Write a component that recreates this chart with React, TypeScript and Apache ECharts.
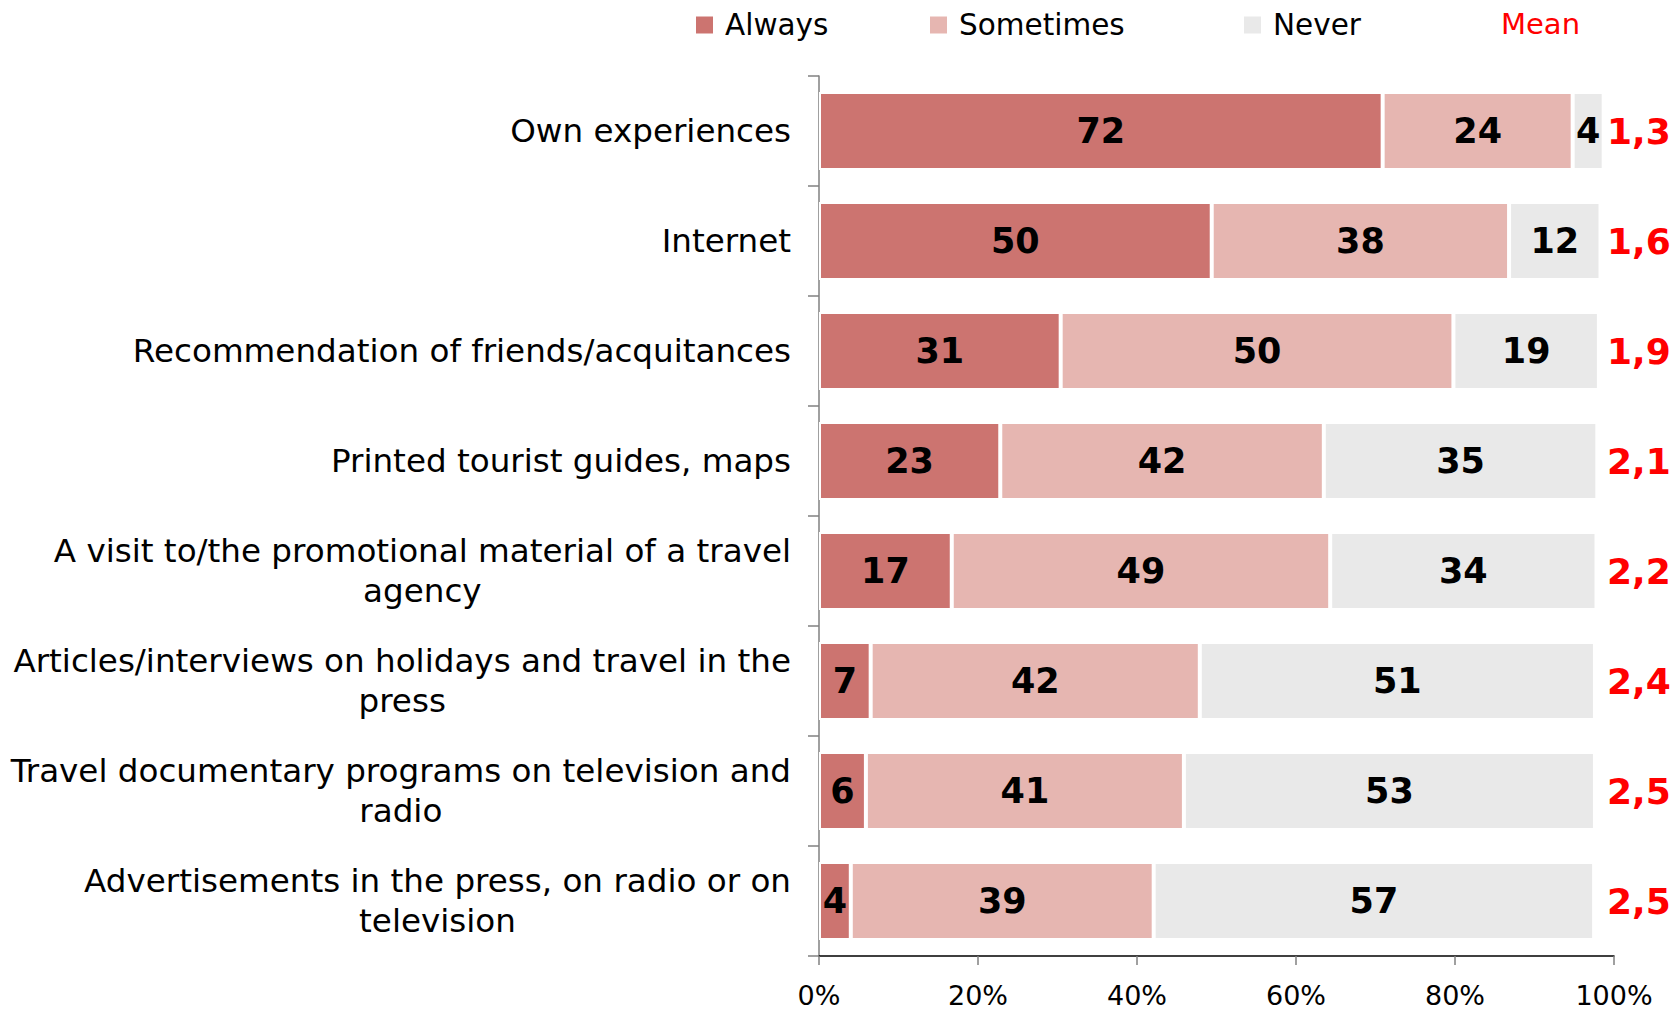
import React, { useEffect, useRef } from "react";
import * as echarts from "echarts";

const categories = [
  "Own experiences",
  "Internet",
  "Recommendation of friends/acquitances",
  "Printed tourist guides, maps",
  "A visit to/the promotional material of a travel\nagency",
  "Articles/interviews on holidays and travel in the\npress",
  "Travel documentary programs on television and\nradio",
  "Advertisements in the press, on radio or on\ntelevision",
];

const alwaysValues = [70.9, 49.4, 30.4, 22.8, 16.7, 6.5, 5.9, 4.0];
const sometimesValues = [23.9, 37.4, 49.4, 40.7, 47.6, 41.4, 40.0, 38.1];
const neverValues = [3.9, 11.5, 18.3, 34.4, 33.5, 49.7, 51.7, 55.4];

const alwaysLabels = [72, 50, 31, 23, 17, 7, 6, 4];
const sometimesLabels = [24, 38, 50, 42, 49, 42, 41, 39];
const neverLabels = [4, 12, 19, 35, 34, 51, 53, 57];

const meanLabels = ["1,3", "1,6", "1,9", "2,1", "2,2", "2,4", "2,5", "2,5"];

const xTicks = [0, 20, 40, 60, 80, 100];

const FONT = "'DejaVu Sans', Verdana, sans-serif";
const COLORS = { always: "#CC7470", sometimes: "#E6B6B1", never: "#E9E9E9" };

export default function App() {
  const ref = useRef<HTMLDivElement>(null);

  useEffect(() => {
    if (!ref.current) return;
    const chart = echarts.init(ref.current, undefined, { renderer: "svg" });

    const mkSeries = (name: string, data: number[], labels: number[], color: string) => ({
      name,
      type: "bar",
      stack: "total",
      data,
      barWidth: 78,
      itemStyle: { color, borderColor: "#ffffff", borderWidth: 2 },
      label: {
        show: true,
        position: "inside",
        formatter: (p: any) => String(labels[p.dataIndex]),
        color: "#000",
        fontFamily: FONT,
        fontWeight: "bold",
        fontSize: 35,
      },
      emphasis: { disabled: true },
    });

    const legendBase = {
      top: 8,
      padding: 0,
      itemWidth: 19,
      itemHeight: 19,
      icon: "rect",
      selectedMode: false,
      textStyle: {
        fontFamily: FONT,
        fontSize: 29.5,
        color: "#000",
        padding: [0, 0, 0, 6],
        lineHeight: 34,
      },
    };

    chart.setOption({
      animation: false,
      backgroundColor: "#ffffff",
      textStyle: { fontFamily: FONT },
      legend: [
        { ...legendBase, left: 694, data: ["Always"] },
        { ...legendBase, left: 928, data: ["Sometimes"] },
        { ...legendBase, left: 1242, data: ["Never"] },
      ],
      graphic: [
        {
          type: "text",
          left: 1501,
          top: 7,
          style: {
            text: "Mean",
            fill: "#FF0000",
            font: `29px ${FONT}`,
            lineHeight: 34,
          },
        },
      ],
      grid: { left: 819, top: 76, width: 795, height: 880, containLabel: false },
      xAxis: {
        type: "value",
        min: xTicks[0],
        max: xTicks[xTicks.length - 1],
        interval: 20,
        axisLine: { show: true, lineStyle: { color: "#000", width: 1.5 } },
        axisTick: { show: true, length: 9, lineStyle: { color: "#808080", width: 1.5 } },
        splitLine: { show: false },
        axisLabel: {
          formatter: "{value}%",
          fontFamily: FONT,
          fontSize: 27,
          lineHeight: 28,
          color: "#000",
          margin: 25,
        },
      },
      yAxis: [
        {
          type: "category",
          data: categories,
          inverse: true,
          axisLine: { show: true, lineStyle: { color: "#808080", width: 1.5 } },
          axisTick: { show: true, length: 11, lineStyle: { color: "#808080", width: 1.5 } },
          axisLabel: {
            margin: 28,
            align: "right",
            fontFamily: FONT,
            fontSize: 32.6,
            color: "#000",
            lineHeight: 40,
            formatter: (v: string) =>
              v
                .split("\n")
                .map((l) => `{c|${l}}`)
                .join("\n"),
            rich: {
              c: {
                align: "center",
                fontFamily: FONT,
                fontSize: 32.6,
                color: "#000",
                lineHeight: 40,
              },
            },
          },
        },
        {
          type: "category",
          data: meanLabels,
          inverse: true,
          position: "right",
          axisLine: { show: false },
          axisTick: { show: false },
          axisLabel: {
            margin: -7,
            align: "left",
            fontFamily: FONT,
            fontSize: 36,
            fontWeight: "bold",
            color: "#FF0000",
          },
        },
      ],
      series: [
        mkSeries("Always", alwaysValues, alwaysLabels, COLORS.always),
        mkSeries("Sometimes", sometimesValues, sometimesLabels, COLORS.sometimes),
        mkSeries("Never", neverValues, neverLabels, COLORS.never),
      ],
    });

    return () => chart.dispose();
  }, []);

  return (
    <div
      ref={ref}
      style={{ position: "fixed", left: 0, top: 0, width: 1677, height: 1011, background: "#fff" }}
    />
  );
}
